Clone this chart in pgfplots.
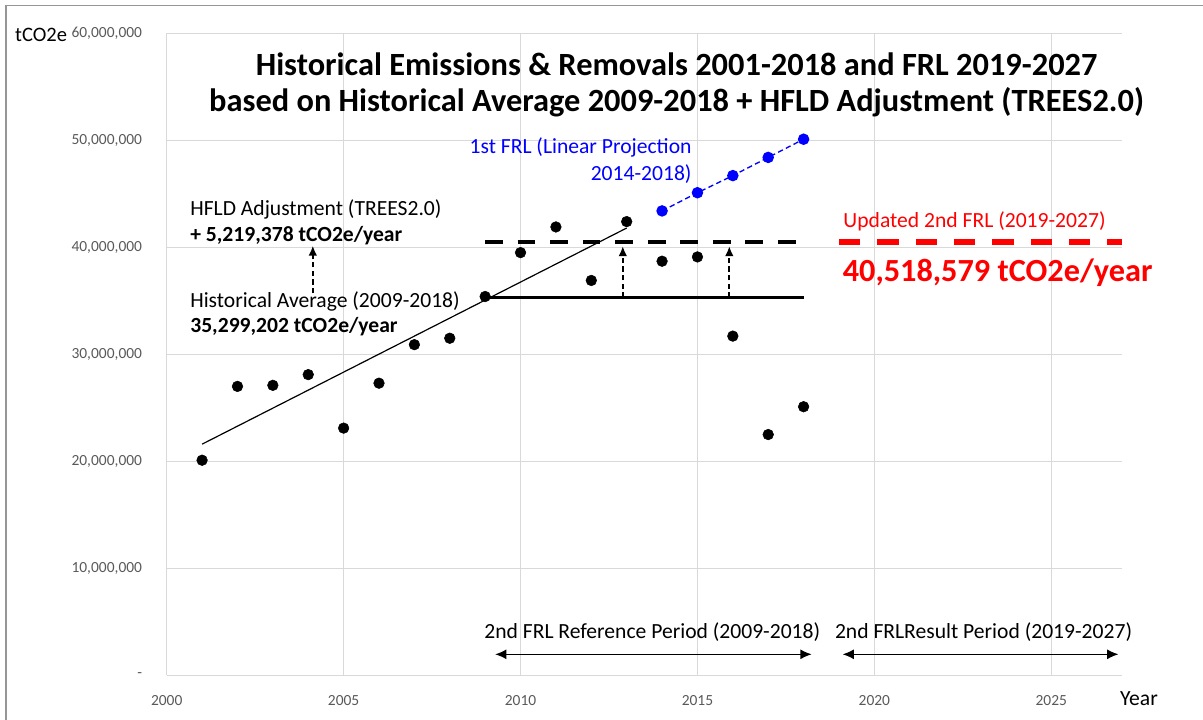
\documentclass[border=0pt]{standalone}
\usepackage{pgfplots}
\pgfplotsset{compat=1.18}
\usepackage{fontspec}
\setmainfont{Carlito}
\usetikzlibrary{arrows.meta}
\definecolor{gridgray}{RGB}{217,217,217}
\definecolor{ticktext}{RGB}{89,89,89}
\definecolor{frlblue}{RGB}{0,0,255}
\definecolor{frlred}{RGB}{255,0,0}
\definecolor{bordergray}{RGB}{150,150,150}
\newcommand{\annfont}{\fontsize{16.2}{19}\selectfont}
\begin{document}
\begin{tikzpicture}
\path[use as bounding box] (0pt,0pt) rectangle (902.25pt,540pt);
\draw[bordergray, line width=1.1pt] (4.5pt,0pt) -- (4.5pt,535.9pt) -- (902.25pt,535.9pt);
\begin{axis}[
  at={(125.03pt,33.53pt)}, anchor=south west,
  scale only axis, width=716.5pt, height=481.5pt,
  xmin=2000, xmax=2027, ymin=0, ymax=60000000,
  axis x line*=bottom, axis y line*=left,
  axis line style={draw=gridgray, line width=0.9pt, -},
  grid=major, major grid style={draw=gridgray, line width=0.75pt},
  major tick length=0pt,
  xtick={2000,2005,2010,2015,2020,2025},
  xticklabels={2000,2005,2010,2015,2020,2025},
  ytick={0,10000000,20000000,30000000,40000000,50000000,60000000},
  yticklabels={{-},{10,000,000},{20,000,000},{30,000,000},{40,000,000},{50,000,000},{60,000,000}},
  scaled y ticks=false,
  x tick label style={font=\fontsize{11.6}{14}\selectfont, text=ticktext, yshift=-11.5pt},
  y tick label style={font=\fontsize{11.6}{14}\selectfont, text=ticktext, xshift=-15pt},
  clip=false,
]
% trend line
\addplot[black, line width=0.9pt] coordinates {(2001,21600000) (2013,41800000)};
% historical average
\addplot[black, line width=2pt] coordinates {(2009,35299202) (2018,35299202)};
% HFLD adjusted level
\addplot[black, line width=3pt, dash pattern=on 13.3pt off 11.1pt] coordinates {(2009,40518579) (2018,40518579)};
% updated 2nd FRL
\addplot[frlred, line width=4.5pt, dash pattern=on 16pt off 12.75pt] coordinates {(2019,40518579) (2027,40518579)};
% 1st FRL linear projection
\addplot[frlblue, line width=1pt, dash pattern=on 4pt off 2.5pt, mark=*, mark size=3.8pt, mark options={solid, fill=frlblue}] coordinates {
(2014,43400000) (2015,45100000) (2016,46700000) (2017,48400000) (2018,50100000)};
% historical emissions
\addplot[only marks, mark=*, mark size=4pt, black, mark options={fill=black}] coordinates {
(2001,20100000) (2002,27000000) (2003,27100000) (2004,28100000) (2005,23100000)
(2006,27300000) (2007,30900000) (2008,31500000) (2009,35400000) (2010,39500000)
(2011,41900000) (2012,36900000) (2013,42400000) (2014,38700000) (2015,39100000)
(2016,31700000) (2017,22500000) (2018,25100000)};
% dashed arrows
\addplot[black, line width=1.3pt, dash pattern=on 4pt off 2.5pt, -{Latex[length=7.5pt,width=6.5pt]}] coordinates {(2004.13,35700000) (2004.13,40150000)};
\addplot[black, line width=1.3pt, dash pattern=on 4pt off 2.5pt, -{Latex[length=7.5pt,width=6.5pt]}] coordinates {(2012.89,35299202) (2012.89,40100000)};
\addplot[black, line width=1.3pt, dash pattern=on 4pt off 2.5pt, -{Latex[length=7.5pt,width=6.5pt]}] coordinates {(2015.9,35299202) (2015.9,40100000)};
% period arrows
\addplot[black, line width=1.1pt, {Latex[length=8.5pt,width=7.5pt]}-{Latex[length=8.5pt,width=7.5pt]}] coordinates {(2009.28,1960000) (2018.23,1960000)};
\addplot[black, line width=1.1pt, {Latex[length=8.5pt,width=7.5pt]}-{Latex[length=8.5pt,width=7.5pt]}] coordinates {(2019.1,1960000) (2026.9,1960000)};
% texts
\node[anchor=base, font=\bfseries\fontsize{24.3}{27}\selectfont] at (axis cs:2014.41,56010000) {Historical Emissions \& Removals 2001-2018 and FRL 2019-2027};
\node[anchor=base, font=\bfseries\fontsize{24.3}{27}\selectfont] at (axis cs:2014.41,52670000) {based on Historical Average 2009-2018 + HFLD Adjustment (TREES2.0)};
\node[anchor=base west, inner sep=0pt, font=\annfont] at (axis cs:2000.66,42930000) {HFLD Adjustment (TREES2.0)};
\node[anchor=base west, inner sep=0pt, font=\annfont\bfseries] at (axis cs:2000.66,40500000) {+ 5,219,378 tCO2e/year};
\node[anchor=base west, inner sep=0pt, font=\annfont] at (axis cs:2000.66,34360000) {Historical Average (2009-2018)};
\node[anchor=base west, inner sep=0pt, font=\annfont\bfseries] at (axis cs:2000.66,32020000) {35,299,202 tCO2e/year};
\node[anchor=base east, inner sep=0pt, font=\annfont, text=frlblue] at (axis cs:2014.84,48790000) {1st FRL (Linear Projection};
\node[anchor=base east, inner sep=0pt, font=\annfont, text=frlblue] at (axis cs:2014.84,46200000) {2014-2018)};
\node[anchor=base west, inner sep=0pt, font=\annfont, text=frlred] at (axis cs:2019.12,41870000) {Updated 2nd FRL (2019-2027)};
\node[anchor=base west, inner sep=0pt, font=\bfseries\fontsize{24.2}{27}\selectfont, text=frlred] at (axis cs:2019.1,36790000) {40,518,579 tCO2e/year};
\node[anchor=base west, inner sep=0pt, font=\annfont] at (axis cs:2008.97,3460000) {2nd FRL Reference Period (2009-2018)};
\node[anchor=base west, inner sep=0pt, font=\annfont] at (axis cs:2018.88,3460000) {2nd FRLResult Period (2019-2027)};
\node[anchor=west, inner sep=0pt, font=\annfont] at (axis cs:2026.94,-2150000) {Year};
\node[anchor=west, inner sep=0pt, font=\fontsize{15.4}{18}\selectfont] at (axis cs:1995.71,59840000) {tCO2e};
\end{axis}
\end{tikzpicture}
\end{document}
